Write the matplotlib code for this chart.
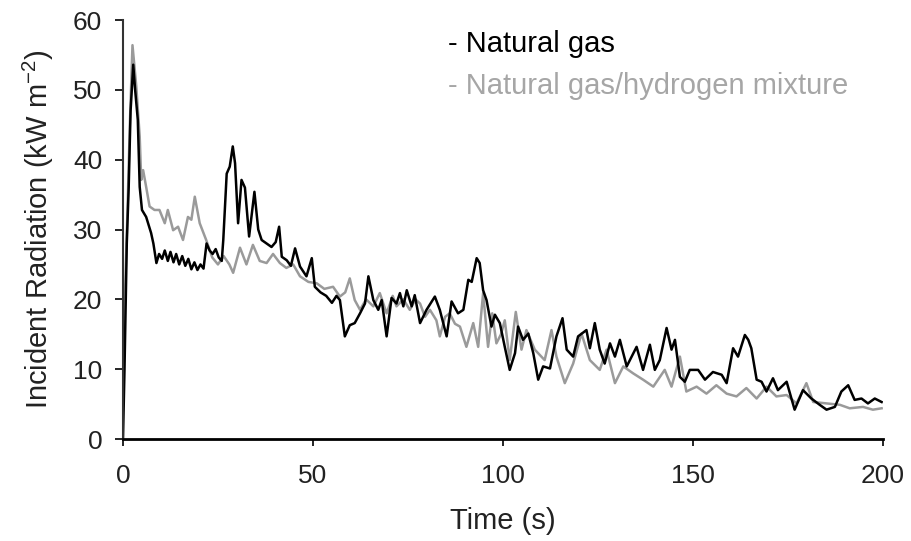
import matplotlib
matplotlib.use("Agg")
import matplotlib.pyplot as plt

plt.rcParams["font.family"] = ["Liberation Sans", "DejaVu Sans"]
plt.rcParams["mathtext.fontset"] = "custom"
plt.rcParams["mathtext.rm"] = "Liberation Sans"

# Natural gas (black)
t_ng = [0, 0.4, 1.0, 1.5, 2.0, 2.7, 3.2, 3.9, 4.4, 5.0, 6.1, 7.4, 8.0, 8.8, 9.5,
        10.3, 11.0, 11.8, 12.5, 13.3, 14.0, 14.8, 15.6, 16.4, 17.2, 18.0, 18.8,
        19.6, 20.4, 21.2, 22.0, 22.8, 23.6, 24.4, 25.2, 26.0, 26.4, 27.3, 28.1,
        28.9, 29.5, 30.3, 31.2, 32.1, 33.2, 34.6, 35.6, 36.5, 37.8, 39.1, 40.2,
        41.1, 41.8, 43.1, 44.2, 45.3, 46.6, 48.3, 49.7, 50.5, 52.0, 53.5, 55.0,
        56.2, 57.1, 58.4, 59.7, 61.0, 62.4, 63.7, 64.6, 65.9, 67.2, 68.1, 69.4,
        70.7, 72.0, 72.9, 73.8, 74.7, 76.0, 76.8, 78.2, 79.9, 82.1, 83.4, 85.2,
        86.5, 88.2, 89.6, 90.9, 91.8, 93.1, 93.9, 94.8, 95.7, 97.0, 97.9, 99.2,
        100.5, 101.8, 103.2, 104.0, 105.3, 106.7, 108.0, 109.3, 110.6, 112.4,
        114.1, 115.7, 116.8, 118.5, 119.8, 122.0, 122.9, 124.2, 125.5, 126.8,
        128.2, 129.5, 130.8, 132.6, 135.2, 136.9, 138.7, 140.0, 141.3, 143.1,
        144.4, 145.3, 146.6, 147.9, 149.2, 151.4, 153.2, 155.3, 157.6, 158.9,
        160.6, 161.9, 163.7, 164.6, 165.4, 166.8, 168.1, 169.4, 171.1, 172.4,
        174.7, 176.8, 179.0, 181.2, 183.4, 185.2, 187.4, 189.1, 190.9, 192.6,
        194.4, 196.1, 197.9, 199.7]
v_ng = [0, 10, 28, 36, 47, 53.6, 50, 45.7, 36.1, 32.8, 31.8, 29.5, 28, 25.2, 26.5,
        25.8, 27, 25.5, 26.8, 25.3, 26.5, 25, 26.2, 24.8, 25.8, 24.3, 25.3,
        24.2, 25, 24.4, 28, 27, 26.5, 27.2, 26, 25.5, 28.5, 38, 39, 41.9, 39.5,
        30.9, 37.1, 36, 29, 35.4, 30, 28.5, 28, 27.5, 28.2, 30.4, 26.1, 25.6,
        24.8, 27.3, 24.7, 23.3, 25.9, 21.8, 21, 20.5, 19.5, 20.5, 19.9, 14.7,
        16.3, 16.6, 18, 19.4, 23.3, 19.9, 18.5, 19.9, 14.7, 20.2, 19.4, 20.9,
        19, 21.3, 19, 20.6, 16.6, 18.5, 20.4, 18.5, 14.7, 19.7, 18, 18.5, 22.8,
        22.5, 25.9, 25.2, 21.3, 19.9, 16.1, 17.8, 16.6, 13.2, 9.9, 12.3, 16.1,
        14.2, 15.1, 12.3, 8.5, 10.4, 10.1, 14.7, 17.3, 12.8, 11.8, 14.7, 15.6,
        13, 16.6, 12.8, 10.8, 13.7, 11.8, 14.2, 10.4, 13.2, 9.9, 13.5, 9.9,
        11.3, 15.9, 12.8, 14.2, 8.9, 8.2, 9.9, 9.9, 8.5, 9.6, 9.2, 8, 13, 11.8,
        14.9, 14.2, 13, 8.5, 8.2, 6.8, 8.7, 7, 8.2, 4.2, 7, 5.8, 4.9, 4.2, 4.6,
        6.8, 7.7, 5.6, 5.8, 5.1, 5.8, 5.3]

# Natural gas/hydrogen mixture (grey)
t_mix = [0, 0.6, 1.2, 1.8, 2.5, 3.5, 4.4, 4.8, 5.3, 6.1, 7.0, 8.3, 9.6, 11.0,
         11.8, 13.2, 14.5, 15.8, 17.1, 18.0, 18.9, 20.2, 21.9, 23.5, 25.0, 26.5,
         28.0, 29.0, 30.8, 32.5, 34.2, 36.0, 37.8, 39.5, 41.3, 43.0, 44.8, 46.6,
         48.8, 51.0, 53.0, 55.3, 57.1, 58.5, 59.7, 61.0, 62.4, 64.0, 65.9, 67.6,
         69.4, 71.0, 72.0, 73.8, 75.5, 77.0, 78.2, 79.5, 80.8, 82.5, 83.4, 84.8,
         86.0, 87.4, 88.7, 90.4, 92.2, 93.5, 94.8, 96.1, 97.2, 98.3, 99.5, 100.5,
         101.8, 103.4, 104.9, 106.2, 108.4, 111.0, 112.8, 114.1, 116.3, 118.5,
         120.7, 122.9, 125.5, 127.3, 129.5, 131.7, 134.3, 136.9, 139.6, 142.6,
         144.4, 146.6, 148.3, 151.0, 153.6, 156.2, 158.9, 161.5, 164.1, 166.8,
         169.4, 172.0, 174.7, 177.3, 179.9, 181.7, 185.2, 188.7, 191.3, 194.8,
         197.4, 199.7]
v_mix = [10, 22, 33, 45, 56.4, 50.5, 43.3, 37.1, 38.5, 36.1, 33.3, 32.8, 32.8,
         30.9, 32.8, 29.9, 30.4, 28.5, 31.8, 31.4, 34.7, 30.9, 28.5, 26, 25,
         26.2, 25, 23.8, 27.4, 25, 27.8, 25.5, 25.2, 26.5, 25.2, 24.5, 25, 23.3,
         22.5, 22.3, 21.5, 21.8, 20.4, 21, 23, 19.9, 18.5, 20, 19, 20.9, 18,
         20.5, 19, 20, 18.5, 20, 19.4, 17.5, 18.5, 17, 14.7, 17.5, 18, 16.5,
         16.1, 13.2, 16.6, 13.2, 20.9, 13.2, 18, 13.7, 15, 17, 11.3, 18.2, 12.8,
         15.6, 12.8, 11.3, 15.6, 11.8, 8, 10.8, 15.1, 11.3, 9.9, 12.8, 8, 10.4,
         9.4, 8.5, 7.5, 9.9, 7.5, 11.8, 6.8, 7.5, 6.5, 7.7, 6.5, 6.1, 7.3, 5.8,
         7.5, 6.1, 6.3, 5.1, 8, 5.3, 5.1, 4.9, 4.4, 4.6, 4.2, 4.4]

x_ticks = [0, 50, 100, 150, 200]
y_ticks = [0, 10, 20, 30, 40, 50, 60]

fig = plt.figure(figsize=(9.11, 5.41), dpi=100)
ax = fig.add_axes([0.135, 0.1885, 0.834, 0.7745])

ax.plot(t_mix, v_mix, color="#9a9a9a", lw=1.8)
ax.plot(t_ng, v_ng, color="#000000", lw=1.8)

ax.set_xlim(0, 200)
ax.set_ylim(0, 60)
ax.set_xticks(x_ticks)
ax.set_yticks(y_ticks)

for side in ["top", "right"]:
    ax.spines[side].set_visible(False)
ax.spines["bottom"].set_linewidth(2.0)
ax.spines["left"].set_linewidth(1.5)
ax.spines["left"].set_color("#333333")

ax.tick_params(axis="x", length=5, width=1.2, pad=13, labelsize=19, labelcolor="#222222")
ax.tick_params(axis="y", length=6, width=1.2, pad=9, labelsize=19, labelcolor="#222222")

ax.set_xlabel("Time (s)", fontsize=21, color="#222222", labelpad=14)
ax.set_ylabel("Incident Radiation (kW m$^{\\mathregular{-2}}$)", fontsize=21,
              color="#222222", labelpad=12)

ax.text(85.5, 56.6, "- Natural gas", fontsize=21, color="#000000",
        ha="left", va="center")
ax.text(85.5, 50.6, "- Natural gas/hydrogen mixture", fontsize=21,
        color="#a6a6a6", ha="left", va="center")

fig.savefig("out.png", dpi=100)
